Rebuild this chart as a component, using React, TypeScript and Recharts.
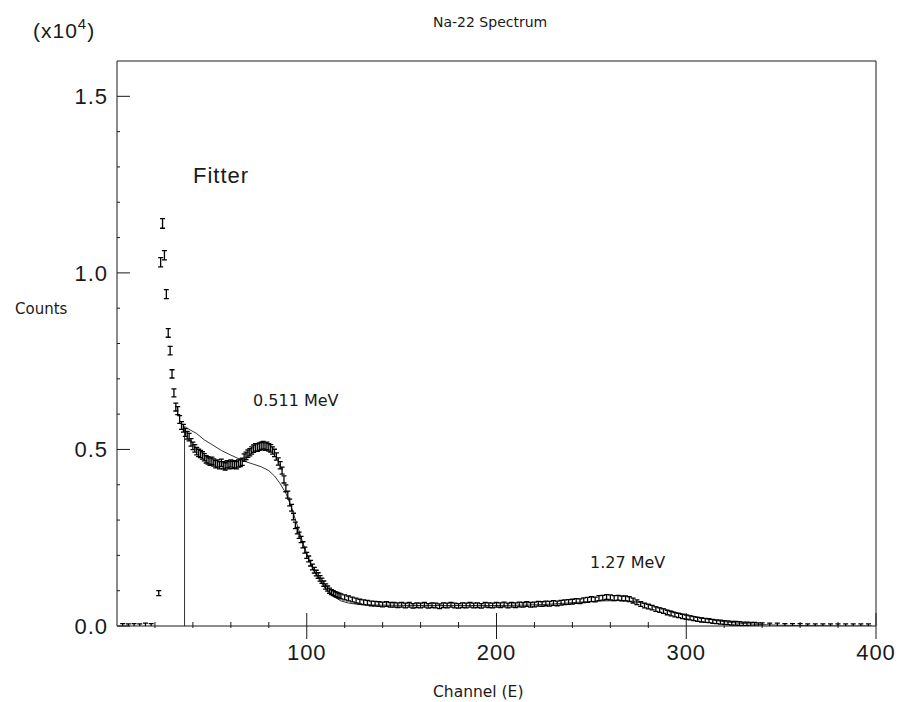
import React from 'react'
import { ComposedChart, Scatter, Line, XAxis, YAxis } from 'recharts'

// channels / counts (x10^4)
const edgeChannels = [3, 6, 9, 12, 15, 18, 22, 23, 24, 25, 26, 27, 28, 29, 30, 31, 32, 33, 34]
const edgeCounts = [0.002, 0.001, 0.002, 0.001, 0.003, 0.002, 0.093, 1.03, 1.14, 1.05, 0.94, 0.83, 0.78, 0.714, 0.66, 0.62, 0.61, 0.585, 0.568]

const annihilationChannels = [
  35, 36, 37, 38, 39, 40, 41, 42, 43, 44, 45, 46, 47, 48, 49, 50, 51, 52, 53, 54, 55, 56, 57, 58, 59, 60,
  61, 62, 63, 64, 65, 66, 67, 68, 69, 70, 71, 72, 73, 74, 75, 76, 77, 78, 79, 80, 81, 82, 83, 84, 85, 86,
  87, 88, 89, 90, 91, 92, 93, 94, 95, 96, 97, 98, 99, 100, 101, 102, 103, 104, 105, 106, 107, 108, 109,
  110, 111, 112, 113, 114, 115, 116, 117, 118,
]
const annihilationCounts = [
  0.56, 0.548, 0.54, 0.535, 0.52, 0.51, 0.503, 0.495, 0.49, 0.487, 0.483, 0.478, 0.472, 0.469, 0.465, 0.468,
  0.463, 0.458, 0.46, 0.455, 0.462, 0.455, 0.452, 0.458, 0.455, 0.46, 0.456, 0.458, 0.455, 0.46, 0.462, 0.465,
  0.477, 0.482, 0.488, 0.492, 0.497, 0.502, 0.506, 0.505, 0.508, 0.51, 0.512, 0.508, 0.51, 0.506, 0.503, 0.497,
  0.49, 0.48, 0.466, 0.455, 0.44, 0.415, 0.39, 0.372, 0.35, 0.335, 0.31, 0.285, 0.27, 0.257, 0.245, 0.23,
  0.215, 0.2, 0.19, 0.178, 0.167, 0.158, 0.15, 0.143, 0.135, 0.128, 0.12, 0.112, 0.106, 0.1, 0.096, 0.093,
  0.09, 0.088, 0.086, 0.084,
]

const plateauChannels = [
  120, 122, 124, 126, 128, 130, 132, 134, 136, 138, 140, 142, 144, 146, 148, 150, 152, 154, 156, 158, 160,
  162, 164, 166, 168, 170, 172, 174, 176, 178, 180, 182, 184, 186, 188, 190, 192, 194, 196, 198, 200, 202,
  204, 206, 208, 210, 212, 214, 216, 218, 220, 222, 224, 226, 228,
]
const plateauCounts = [
  0.081, 0.078, 0.075, 0.072, 0.069, 0.067, 0.066, 0.064, 0.063, 0.062, 0.061, 0.062, 0.06, 0.06, 0.059, 0.06,
  0.058, 0.06, 0.057, 0.059, 0.058, 0.06, 0.057, 0.059, 0.058, 0.056, 0.059, 0.058, 0.06, 0.058, 0.057, 0.059,
  0.058, 0.06, 0.058, 0.059, 0.057, 0.06, 0.059, 0.058, 0.06, 0.059, 0.061, 0.058, 0.06, 0.059, 0.061, 0.06,
  0.062, 0.06, 0.061, 0.063, 0.062, 0.064, 0.063,
]

const photopeakChannels = [
  230, 232, 234, 236, 238, 240, 242, 244, 246, 248, 250, 252, 254, 256, 258, 260, 262, 264, 266, 268, 270,
  272, 274, 276, 278, 280, 282, 284, 286, 288, 290, 292, 294, 296, 298, 300, 302, 304, 306, 308, 310, 312,
  314, 316, 318, 320, 322, 324, 326, 328, 330, 332, 334, 336, 338, 340, 344, 348, 352, 356, 360, 364, 368,
  372, 376, 380, 384, 388, 392, 396,
]
const photopeakCounts = [
  0.065, 0.064, 0.066, 0.067, 0.068, 0.069, 0.071, 0.07, 0.073, 0.074, 0.076, 0.075, 0.079, 0.08, 0.082, 0.081,
  0.079, 0.08, 0.078, 0.078, 0.076, 0.072, 0.067, 0.062, 0.058, 0.055, 0.052, 0.048, 0.045, 0.042, 0.038, 0.035,
  0.032, 0.03, 0.027, 0.025, 0.023, 0.021, 0.019, 0.017, 0.016, 0.015, 0.013, 0.012, 0.011, 0.01, 0.009, 0.008,
  0.008, 0.007, 0.006, 0.006, 0.005, 0.005, 0.004, 0.004, 0.003, 0.003, 0.002, 0.002, 0.002, 0.001, 0.001,
  0.001, 0.001, 0.001, 0.001, 0.001, 0.001, 0.001,
]

// fitter curve
const fitChannels = [
  35.6, 35.6, 38, 42, 46, 50, 55, 60, 64, 68, 72, 76, 80, 83, 86, 89, 92, 95, 98, 101, 104, 107, 110, 114, 118,
  122, 126, 130, 140, 160, 180, 200, 215, 225, 235, 245, 255, 265, 272, 278, 284, 290, 296, 302, 308, 315, 322,
  330, 340, 350, 365, 380, 398,
]
const fitCounts = [
  0, 0.565, 0.557, 0.545, 0.527, 0.514, 0.497, 0.484, 0.474, 0.465, 0.458, 0.451, 0.44, 0.425, 0.403, 0.376,
  0.335, 0.285, 0.235, 0.19, 0.155, 0.127, 0.104, 0.084, 0.071, 0.065, 0.062, 0.06, 0.059, 0.058, 0.058, 0.058,
  0.059, 0.061, 0.064, 0.068, 0.071, 0.072, 0.07, 0.064, 0.055, 0.046, 0.037, 0.03, 0.023, 0.016, 0.011, 0.007,
  0.004, 0.002, 0.001, 0, 0,
]

const xTicks = [20, 40, 60, 80, 100, 120, 140, 160, 180, 200, 220, 240, 260, 280, 300, 320, 340, 360, 380, 400]
const yTicks = [0, 0.1, 0.2, 0.3, 0.4, 0.5, 0.6, 0.7, 0.8, 0.9, 1.0, 1.1, 1.2, 1.3, 1.4, 1.5]
const xLabelTicks = [100, 200, 300, 400]
const yLabelTicks = [0, 0.5, 1.0, 1.5]

const zip = (ch: number[], vals: number[], key: string) => ch.map((c, i) => ({ channel: c, [key]: vals[i] }))

const spectrum = [
  ...zip(edgeChannels, edgeCounts, 'counts'),
  ...zip(annihilationChannels, annihilationCounts, 'counts'),
  ...zip(plateauChannels, plateauCounts, 'counts'),
  ...zip(photopeakChannels, photopeakCounts, 'counts'),
]
const fit = zip(fitChannels, fitCounts, 'fit')

const INK = '#1a1a1a'
const tickFont = { fontFamily: '"Liberation Sans", Arial, sans-serif', fontSize: 22, letterSpacing: 1, fill: INK }
const labelFont = { fontFamily: '"DejaVu Sans", sans-serif', fill: INK }

const isMajorX = (v: number) => xLabelTicks.includes(v)
const isMajorY = (v: number) => yLabelTicks.some((t) => Math.abs(t - v) < 1e-6)

const BottomTick = ({ x, y, payload }: any) => {
  const v = payload.value
  const major = isMajorX(v)
  return (
    <g>
      <line x1={x} x2={x} y1={major ? y - 13 : y - 4} y2={major ? y + 13 : y + 2} stroke={INK} />
      {major && (
        <text x={x} y={y + 34} textAnchor="middle" {...tickFont}>
          {v}
        </text>
      )}
    </g>
  )
}

const TopTick = ({ x, y, payload }: any) => {
  const major = isMajorX(payload.value)
  return <line x1={x} x2={x} y1={y} y2={y + (major ? 13 : 3)} stroke={INK} />
}

const LeftTick = ({ x, y, payload }: any) => {
  const v = payload.value
  const major = isMajorY(v)
  return (
    <g>
      <line x1={x} x2={x + (major ? 13 : 3)} y1={y} y2={y} stroke={INK} />
      {major && (
        <text x={x - 9} y={y + 8} textAnchor="end" {...tickFont}>
          {v.toFixed(1)}
        </text>
      )}
    </g>
  )
}

const RightTick = ({ x, y, payload }: any) => {
  const major = isMajorY(payload.value)
  return <line x1={x - (major ? 13 : 3)} x2={x} y1={y} y2={y} stroke={INK} />
}

// error-bar style marker
const IBeam = ({ cx, cy, payload }: any) => {
  if (cx == null || cy == null) return null
  const h = 1.6 + 3 * Math.sqrt(payload.counts)
  return (
    <path
      d={`M${cx - 2.5},${cy - h}H${cx + 2.5}M${cx},${cy - h}V${cy + h}M${cx - 2.5},${cy + h}H${cx + 2.5}`}
      stroke="#000"
      strokeWidth={1.3}
      fill="none"
    />
  )
}

export default function App() {
  return (
    <div style={{ position: 'absolute', left: 0, top: 0, width: 899, height: 702, background: '#fff' }}>
      <ComposedChart width={899} height={702} margin={{ top: 51, right: 13, bottom: 26, left: 57 }}>
        <XAxis
          dataKey="channel"
          type="number"
          domain={[0, 400]}
          ticks={xTicks}
          tick={<BottomTick />}
          tickSize={0}
          tickMargin={0}
          tickLine={false}
          height={50}
          allowDataOverflow
          axisLine={{ stroke: INK }}
        />
        <XAxis
          xAxisId="top"
          orientation="top"
          type="number"
          domain={[0, 400]}
          ticks={xTicks}
          tick={<TopTick />}
          tickSize={0}
          tickMargin={0}
          tickLine={false}
          height={10}
          axisLine={{ stroke: INK }}
        />
        <YAxis
          type="number"
          domain={[0, 1.6]}
          ticks={yTicks}
          tick={<LeftTick />}
          tickSize={0}
          tickMargin={0}
          tickLine={false}
          width={60}
          allowDataOverflow
          axisLine={{ stroke: INK }}
        />
        <YAxis
          yAxisId="right"
          orientation="right"
          type="number"
          domain={[0, 1.6]}
          ticks={yTicks}
          tick={<RightTick />}
          tickSize={0}
          tickMargin={0}
          tickLine={false}
          width={10}
          axisLine={{ stroke: INK }}
        />
        <Line
          data={fit}
          dataKey="fit"
          type="linear"
          stroke="#333"
          strokeWidth={1}
          dot={false}
          activeDot={false}
          isAnimationActive={false}
        />
        <Scatter data={spectrum} dataKey="counts" shape={<IBeam />} isAnimationActive={false} />
      </ComposedChart>
      <svg width={899} height={702} style={{ position: 'absolute', left: 0, top: 0, pointerEvents: 'none' }}>
        <text x={33} y={38} {...tickFont} fontSize={21}>
          (x10
          <tspan dy={-9} fontSize={15}>
            4
          </tspan>
          <tspan dy={9}>)</tspan>
        </text>
        <text x={433} y={27} {...labelFont} fontSize={14}>
          Na-22 Spectrum
        </text>
        <text x={15} y={314} {...labelFont} fontSize={15}>
          Counts
        </text>
        <text x={433} y={697} {...labelFont} fontSize={15.5}>
          Channel (E)
        </text>
        <text x={193} y={183} {...tickFont} fontSize={22}>
          Fitter
        </text>
        <text x={253} y={406} {...labelFont} fontSize={16}>
          0.511 MeV
        </text>
        <text x={590} y={568} {...labelFont} fontSize={16}>
          1.27 MeV
        </text>
      </svg>
    </div>
  )
}
